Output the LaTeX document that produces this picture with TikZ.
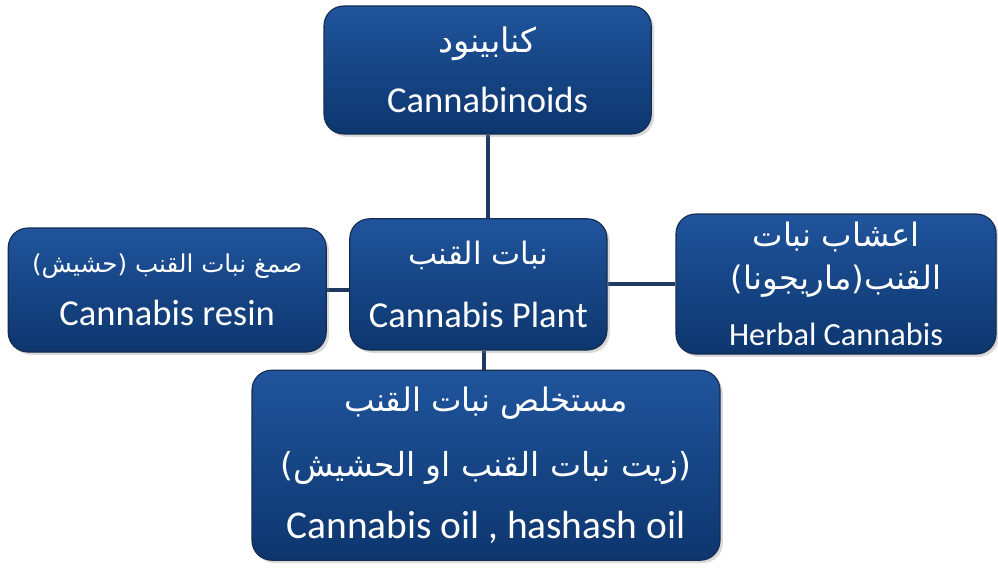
\documentclass[tikz,border=0pt]{standalone}
\usepackage{fontspec}
\setmainfont{Carlito}
\newfontfamily\arabicfont[Script=Arabic]{DejaVu Sans}
\TeXXeTstate=1
\usetikzlibrary{shadows,backgrounds}

\definecolor{boxtop}{RGB}{32,84,156}
\definecolor{boxbottom}{RGB}{13,54,110}
\definecolor{boxedge}{RGB}{22,44,80}
\definecolor{linkcol}{RGB}{30,58,96}

\newcommand{\ar}[1]{{\arabicfont\beginR #1\endR}}

\tikzset{
  plantbox/.style={draw=boxedge, line width=0.8pt, rounded corners=14pt,
    top color=boxtop, bottom color=boxbottom, text=white, align=center,
    inner sep=0pt,
    drop shadow={opacity=0.3, shadow xshift=2pt, shadow yshift=-2pt}},
  link/.style={draw=linkcol, line width=2.8pt}
}

\begin{document}
\begin{tikzpicture}
  \useasboundingbox (0,0) rectangle (24.95,-14.175);

  % the plant in the middle
  \node[plantbox, minimum width=6.43cm, minimum height=3.28cm,
        font=\fontsize{26}{31}\selectfont] (plant) at (11.96,-7.11)
    {\ar{\fontsize{22}{26}\selectfont نبات القنب}\\[14pt] Cannabis Plant};

  % the four products round it
  \node[plantbox, minimum width=8.18cm, minimum height=3.2cm,
        font=\fontsize{26}{31}\selectfont] (cannabinoids) at (12.19,-1.75)
    {\ar{\fontsize{24}{28}\selectfont كنابينود}\\[12pt] Cannabinoids};
  \node[plantbox, minimum width=7.95cm, minimum height=3.1cm,
        font=\fontsize{26}{31}\selectfont] (resin) at (4.18,-7.25)
    {\ar{\fontsize{17.5}{21}\selectfont صمغ نبات القنب (حشيش)}\\[7pt] Cannabis resin};
  \node[plantbox, minimum width=8cm, minimum height=3.5cm,
        font=\fontsize{23}{28}\selectfont] (herbal) at (20.9,-7.1)
    {\ar{\fontsize{23}{28}\selectfont اعشاب نبات}\\[2pt]
     \ar{\fontsize{23}{28}\selectfont القنب(ماريجونا)}\\[12pt] Herbal Cannabis};
  \node[plantbox, minimum width=11.7cm, minimum height=4.75cm,
        font=\fontsize{28}{33}\selectfont] (oil) at (12.15,-11.63)
    {\ar{\fontsize{23}{28}\selectfont مستخلص نبات القنب}\\[13pt]
     \ar{\fontsize{23.5}{28}\selectfont (زيت نبات القنب او الحشيش)}\\[11pt]
     Cannabis oil , hashash oil};

  \begin{scope}[on background layer]
    \draw[link] (cannabinoids.south) -- (cannabinoids.south |- plant.north);
    \draw[link] ([xshift=0.15cm]plant.south) -- ([xshift=0.15cm]plant.south |- oil.north);
    \draw[link] (resin.east) -- (resin.east -| plant.west);
    \draw[link] (plant.east) -- (plant.east -| herbal.west);
  \end{scope}
\end{tikzpicture}
\end{document}
